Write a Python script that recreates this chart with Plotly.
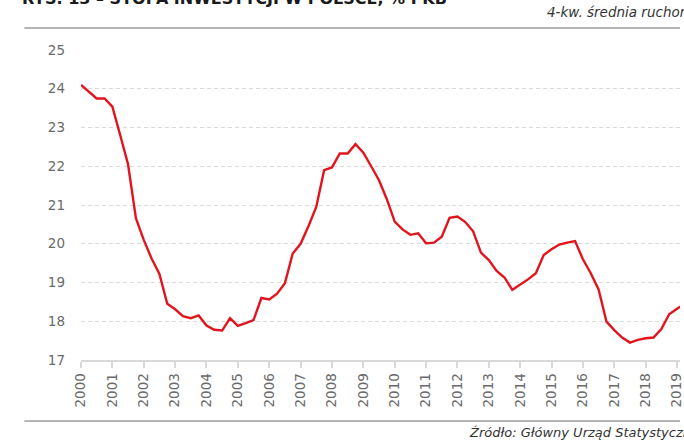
import plotly.graph_objects as go

# Quarterly 4-quarter moving average of investment rate (% of GDP), 2000Q1 onward
start_year = 2000
values = [24.10, 23.92, 23.75, 23.75, 23.54, 22.80, 22.05, 20.66,
          20.10, 19.62, 19.22, 18.45, 18.31, 18.13, 18.08, 18.15,
          17.89, 17.78, 17.76, 18.08, 17.88, 17.95, 18.03, 18.60,
          18.56, 18.71, 18.98, 19.75, 20.00, 20.45, 20.95, 21.90,
          21.97, 22.33, 22.33, 22.57, 22.35, 22.00, 21.64, 21.15,
          20.57, 20.37, 20.23, 20.27, 20.01, 20.03, 20.18, 20.67,
          20.70, 20.56, 20.32, 19.77, 19.58, 19.30, 19.13, 18.81,
          18.94, 19.08, 19.24, 19.71, 19.86, 19.98, 20.03, 20.07,
          19.60, 19.24, 18.82, 17.99, 17.77, 17.58, 17.45, 17.52,
          17.56, 17.58, 17.80, 18.18, 18.32, 18.45]
quarter_x = [start_year + i / 4 for i in range(len(values))]

year_ticks = list(range(2000, 2020))
y_ticks = [17, 18, 19, 20, 21, 22, 23, 24, 25]

title_text = "RYS. 13 – STOPA INWESTYCJI W POLSCE, % PKB"
subtitle_text = "4-kw. średnia ruchoma"
source_text = "Źródło: Główny Urząd Statystyczny"

font_family = "'DejaVu Sans', sans-serif"

W, H = 684, 441
L, R, T, B = 81, 0, 50, 81
PW, PH = W - L - R, H - T - B


def px_x(px):
    return (px - L) / PW


def px_y(py):
    return (H - B - py) / PH


fig = go.Figure()
fig.add_trace(go.Scatter(
    x=quarter_x, y=values, mode="lines",
    line=dict(color="#e2141e", width=2.4),
    hoverinfo="skip", showlegend=False,
))

fig.update_layout(
    width=W, height=H,
    margin=dict(l=L, r=R, t=T, b=B),
    paper_bgcolor="white", plot_bgcolor="white",
    font=dict(family=font_family, color="#666666"),
    xaxis=dict(
        range=[2000, 2019.095],
        tickvals=year_ticks, ticktext=[str(y) for y in year_ticks],
        tickangle=-90, tickfont=dict(size=13.5, color="#6a6a6a"),
        ticklabeloverflow="allow",
        showgrid=False, zeroline=False,
        showline=True, linecolor="#d9d9d9", linewidth=1.5,
        ticks="outside", ticklen=6, tickcolor="#d9d9d9", tickwidth=1.5,
    ),
    yaxis=dict(
        range=[17, 25], tickvals=y_ticks,
        tickfont=dict(size=13.5, color="#6a6a6a"),
        showgrid=True, gridcolor="#d9d9d9", gridwidth=1, griddash="4px,3px",
        zeroline=False, showline=False, ticks="",
        ticklabelstandoff=15,
    ),
    shapes=[
        dict(type="line", xref="paper", yref="paper", x0=px_x(24), x1=1.0,
             y0=px_y(28), y1=px_y(28),
             line=dict(color="#6a6a6a", width=1)),
        dict(type="line", xref="paper", yref="paper", x0=px_x(24), x1=1.0,
             y0=px_y(421), y1=px_y(421),
             line=dict(color="#6a6a6a", width=1)),
    ],
    annotations=[
        dict(text="<b>" + title_text + "</b>", xref="paper", yref="paper",
             x=px_x(20), y=px_y(10),
             xanchor="left", yanchor="bottom", showarrow=False,
             font=dict(size=16, color="#1a1a1a", family=font_family)),
        dict(text="<i>" + subtitle_text + "</i>", xref="paper", yref="paper",
             x=px_x(548), y=px_y(12),
             xanchor="left", yanchor="middle", showarrow=False,
             font=dict(size=13.5, color="#333333", family=font_family)),
        dict(text="<i>" + source_text + "</i>", xref="paper", yref="paper",
             x=px_x(470), y=px_y(433),
             xanchor="left", yanchor="middle", showarrow=False,
             font=dict(size=13, color="#333333", family=font_family)),
    ],
)

fig.write_html(
    "out.html",
    config={"displayModeBar": False},
    post_script="document.body.style.margin='0';document.body.style.overflow='hidden';",
)
